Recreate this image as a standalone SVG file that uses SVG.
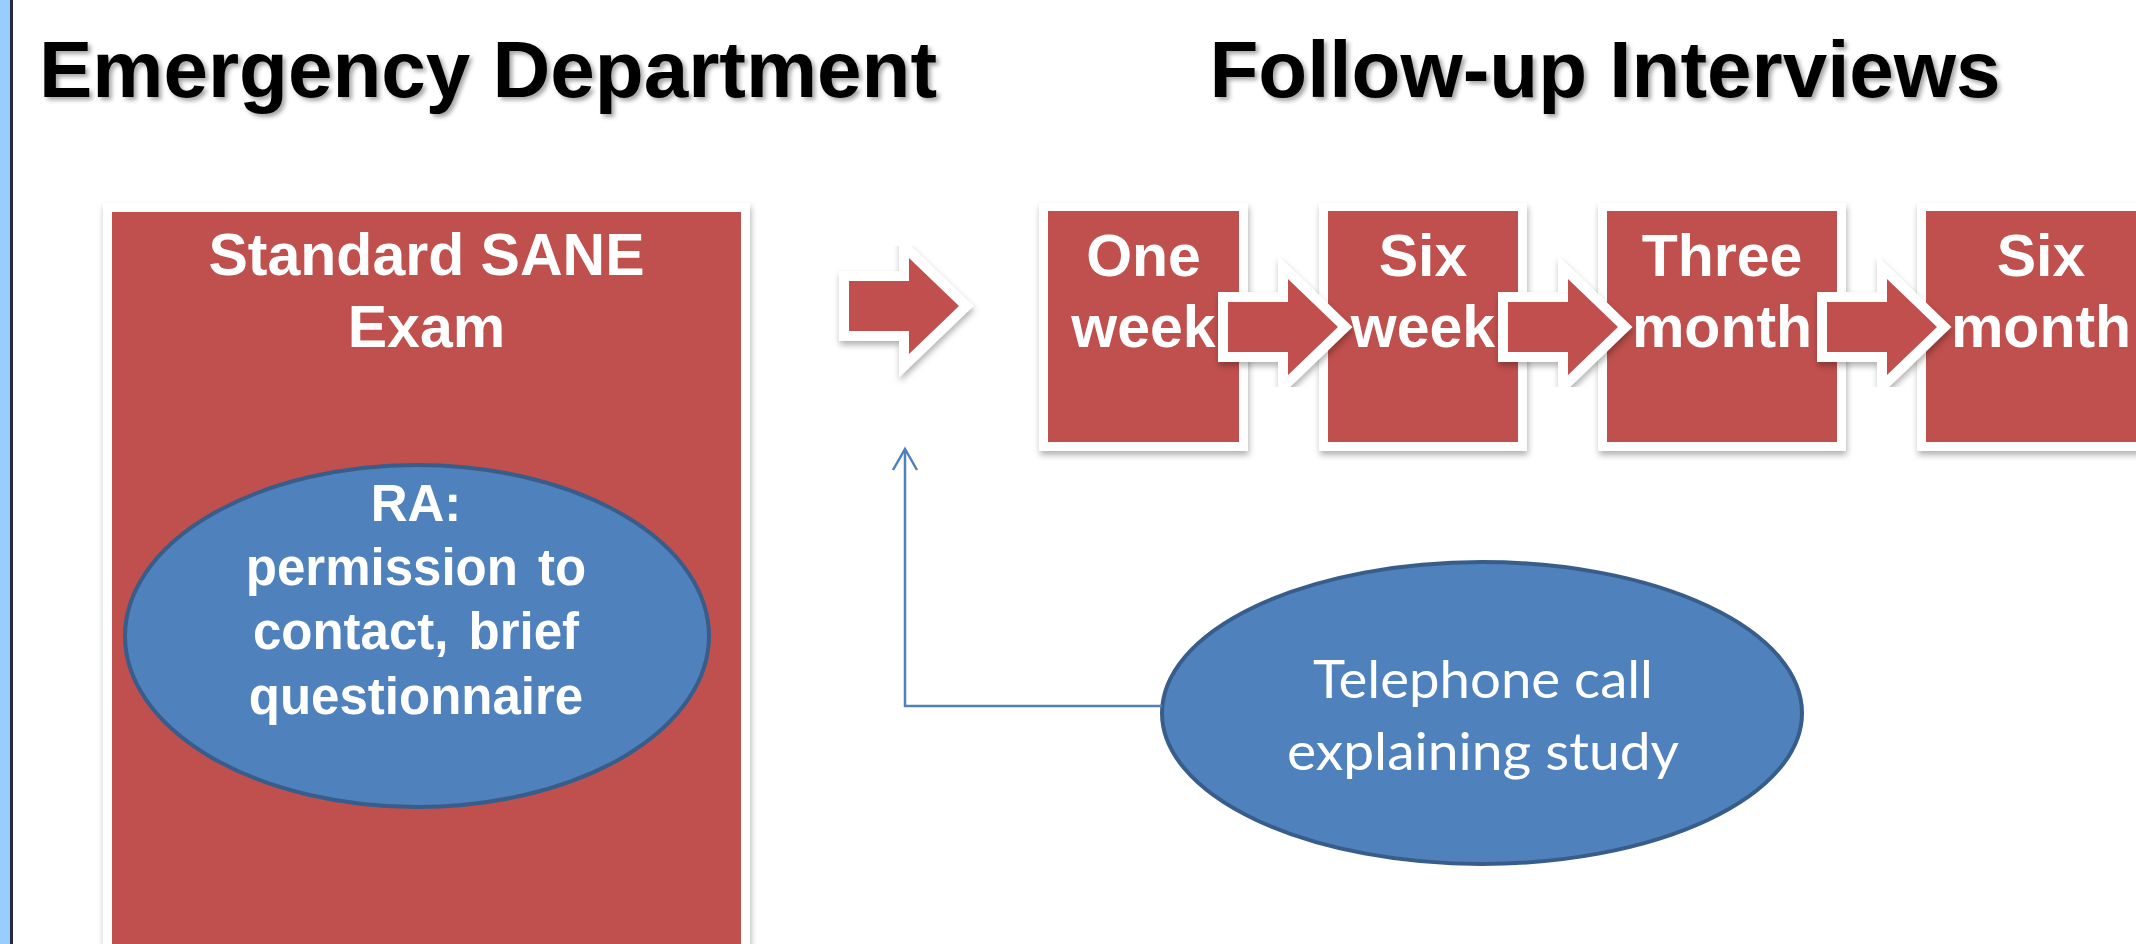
<svg xmlns="http://www.w3.org/2000/svg" xmlns:xlink="http://www.w3.org/1999/xlink" width="2136" height="944" viewBox="0 0 2136 944">
  <style>
    .title { font-family: "Liberation Sans", Arial, sans-serif; font-weight: bold; font-size: 80px; fill: #000000; }
    .boxtxt { font-family: "Liberation Sans", Arial, sans-serif; font-weight: bold; font-size: 59px; fill: #FFFFFF; text-anchor: middle; }
    .ratxt { font-family: "Liberation Sans", Arial, sans-serif; font-weight: bold; font-size: 51px; fill: #FFFFFF; text-anchor: middle; word-spacing: 6px; }
    .teltxt { font-family: Lato, "Open Sans", sans-serif; font-size: 52px; fill: #FFFFFF; text-anchor: middle; }
    .frame { fill: #FFFFFF; }
    .red { fill: #C0504D; }
    .oval { fill: #4F81BD; stroke: #385D8A; stroke-width: 4; }
    .blockarrow { fill: #C0504D; stroke: #FFFFFF; stroke-width: 20; stroke-linejoin: miter; stroke-miterlimit: 4; paint-order: stroke; }
    .conn { fill: none; stroke: #4F81BD; stroke-width: 2.5; }
  </style>
  <defs>
    <filter id="textshadow" x="-5%" y="-20%" width="110%" height="150%">
      <feDropShadow dx="3" dy="3" stdDeviation="2" flood-color="#000000" flood-opacity="0.35"/>
    </filter>
    <filter id="boxshadow" x="-10%" y="-10%" width="120%" height="120%">
      <feDropShadow dx="1" dy="4" stdDeviation="3" flood-color="#000000" flood-opacity="0.3"/>
    </filter>
    <path id="arrowshape" d="M0,-25 H60 V-48 L110,0 L60,48 V25 H0 Z"/>
    <marker id="openhead" markerUnits="userSpaceOnUse" viewBox="-26 -15 30 30" refX="0" refY="0" markerWidth="30" markerHeight="30" orient="auto">
      <path d="M-21,-12 L0,0 L-21,12" fill="none" stroke="#4F81BD" stroke-width="2.5"/>
    </marker>
  </defs>

  <rect x="0" y="0" width="2136" height="944" fill="#FFFFFF"/>

  <g id="left-strip">
    <rect x="0" y="0" width="10" height="944" fill="#99CCFF"/>
    <rect x="10" y="0" width="3" height="944" fill="#2B2B40"/>
  </g>

  <g id="title-ed">
    <text class="title" x="39" y="97" filter="url(#textshadow)">Emergency Department</text>
  </g>
  <g id="title-fu">
    <text class="title" x="1605" y="97" text-anchor="middle" filter="url(#textshadow)">Follow-up Interviews</text>
  </g>

  <g id="node-sane">
    <rect class="frame" x="103" y="203" width="647" height="760" filter="url(#boxshadow)"/>
    <rect class="red" x="112" y="212" width="629" height="740"/>
    <text class="boxtxt" x="426.5" y="275">Standard SANE</text>
    <text class="boxtxt" x="426.5" y="347">Exam</text>
  </g>

  <g id="node-ra">
    <ellipse class="oval" cx="417" cy="636" rx="292" ry="171"/>
    <text class="ratxt" x="416" y="521">RA:</text>
    <text class="ratxt" x="416" y="585">permission to</text>
    <text class="ratxt" x="416" y="649">contact, brief</text>
    <text class="ratxt" x="416" y="714">questionnaire</text>
  </g>

  <g id="node-one-week">
    <rect class="frame" x="1039" y="203" width="209" height="248" filter="url(#boxshadow)"/>
    <rect class="red" x="1048" y="211" width="191" height="231"/>
    <text class="boxtxt" x="1143.5" y="276">One</text>
    <text class="boxtxt" x="1143.5" y="347">week</text>
  </g>

  <g id="node-six-week">
    <rect class="frame" x="1319" y="203" width="208" height="248" filter="url(#boxshadow)"/>
    <rect class="red" x="1328" y="211" width="190" height="231"/>
    <text class="boxtxt" x="1423" y="276">Six</text>
    <text class="boxtxt" x="1423" y="347">week</text>
  </g>

  <g id="node-three-month">
    <rect class="frame" x="1598" y="203" width="248" height="248" filter="url(#boxshadow)"/>
    <rect class="red" x="1607" y="211" width="230" height="231"/>
    <text class="boxtxt" x="1722" y="276">Three</text>
    <text class="boxtxt" x="1722" y="347">month</text>
  </g>

  <g id="node-six-month">
    <rect class="frame" x="1917" y="203" width="248" height="248" filter="url(#boxshadow)"/>
    <rect class="red" x="1926" y="211" width="230" height="231"/>
    <text class="boxtxt" x="2041" y="276">Six</text>
    <text class="boxtxt" x="2041" y="347">month</text>
  </g>

  <g id="node-telephone">
    <ellipse class="oval" cx="1482" cy="713" rx="320" ry="151"/>
    <text class="teltxt" x="1483" y="698" textLength="340" lengthAdjust="spacingAndGlyphs">Telephone call</text>
    <text class="teltxt" x="1483" y="770" textLength="392" lengthAdjust="spacingAndGlyphs">explaining study</text>
  </g>

  <g id="connectors">
    <g filter="url(#boxshadow)">
      <use xlink:href="#arrowshape" href="#arrowshape" class="blockarrow" transform="translate(849,306)"/>
      <use xlink:href="#arrowshape" href="#arrowshape" class="blockarrow" transform="translate(1228,327)"/>
      <use xlink:href="#arrowshape" href="#arrowshape" class="blockarrow" transform="translate(1508,327)"/>
      <use xlink:href="#arrowshape" href="#arrowshape" class="blockarrow" transform="translate(1827,327)"/>
    </g>
    <path class="conn" d="M1162,706 H905 V449" marker-end="url(#openhead)"/>
  </g>
</svg>
